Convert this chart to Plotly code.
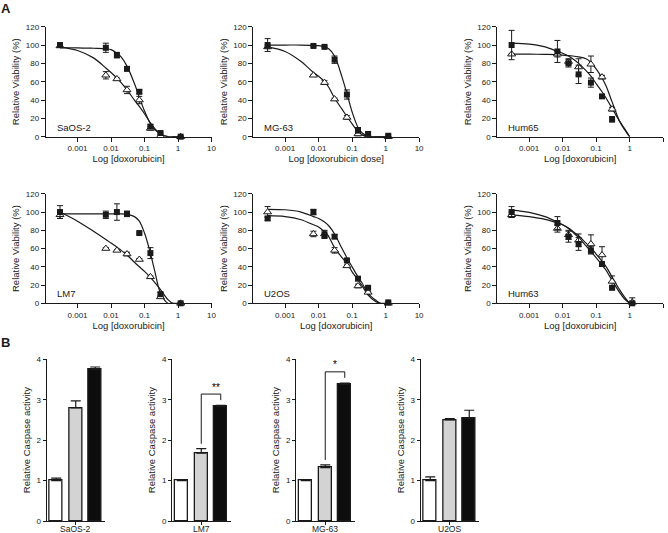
import plotly.graph_objects as go

# ---------------- data ----------------
POINT_DOSE = [0.0003, 0.007, 0.015, 0.03, 0.07, 0.15, 0.3, 1.2]
CURVE_DOSE = [0.0003, 0.001, 0.003, 0.007, 0.01, 0.015, 0.02, 0.03, 0.05,
              0.07, 0.1, 0.15, 0.2, 0.3, 0.5, 0.7, 1.0]
DOSE_TICKS = [0.001, 0.01, 0.1, 1, 10]
DOSE_TICK_LABELS = ["0.001", "0.01", "0.1", "1", "10"]
VIAB_TICKS = [0, 20, 40, 60, 80, 100, 120]

CELL_LINES_A = ["SaOS-2", "MG-63", "Hum65", "LM7", "U2OS", "Hum63"]
X_TITLES_A = ["Log [doxorubicin]", "Log [doxorubicin dose]", "Log [doxorubicin]",
              "Log [doxorubicin]", "Log [doxorubicin]", "Log [doxorubicin]"]

# filled squares / open triangles (mean, error) and fitted curves
saos2_sq = [100, 97, 89, 74, 49, 11, 4, 0]
saos2_sq_err = [2, 5, 3, 2, 2, 2, 1, 1]
saos2_tri = [99, 67, 63, 51, 40, 9, 1, 0]
saos2_tri_err = [1, 4, 1, 4, 4, 2, 1, 0]
saos2_fit_sq = [97, 97, 96.5, 96, 95, 91, 87, 77, 58, 43, 28, 14, 8, 3, 0, 0, 0]
saos2_fit_tri = [98, 94, 86, 75, 70, 64, 59, 51, 40, 33, 25, 15, 9, 3, 0, 0, 0]

mg63_sq = [100, 99, 98, 84, 46, 7, 3, 1]
mg63_sq_err = [7, 1, 1, 4, 5, 3, 2, 1]
mg63_tri = [98, 67, 59, 41, 21, 3, 1, 0]
mg63_tri_err = [2, 1, 2, 1, 2, 2, 1, 0]
mg63_fit_sq = [100, 100, 100, 99.5, 99.3, 98, 96, 88, 65, 47, 27, 10, 4, 0.5, 0, 0, 0]
mg63_fit_tri = [98, 93, 82, 70, 66, 60, 54, 42, 30, 22, 14, 5.5, 2, 0, 0, 0, 0]

hum65_sq = [100, 93, 80, 68, 59, 44, 19, None]
hum65_sq_err = [16, 12, 4, 10, 5, 1, 3, 0]
hum65_tri = [90, 90, 82, 76, 79, 65, 30, None]
hum65_tri_err = [0, 3, 3, 9, 9, 2, 2, 0]
hum65_fit_sq = [102, 101, 98, 93, 91, 88, 85, 80, 72, 66, 58, 49, 42, 31, 17, 9, 0]
hum65_fit_tri = [90, 90, 89.8, 89.5, 89, 88.5, 88, 87, 85, 81, 74, 64, 55, 38, 17, 8, 0]

lm7_sq = [100, 97, 100, 98, 77, 55, 10, 0]
lm7_sq_err = [7, 4, 9, 3, 1, 6, 2, 1]
lm7_tri = [97, 60, 58, 54, 48, 29, 7, 0]
lm7_tri_err = [4, 1, 1, 2, 1, 1, 1, 0]
lm7_fit_sq = [98, 98, 98, 98, 98, 98, 98, 97.5, 95, 90, 77, 55, 36, 11, 0, 0, 0]
lm7_fit_tri = [100, 90, 79, 70, 66, 61.5, 58, 53, 45, 40, 35, 28.5, 23, 15, 4, 0, 0]

u2os_sq = [93, 100, 75, 73, 47, 27, 17, 1]
u2os_sq_err = [2, 3, 4, 2, 1, 1, 1, 1]
u2os_tri = [100, 76, 76, 58, 41, 19, 12, 0]
u2os_tri_err = [6, 3, 4, 3, 1, 2, 1, 0]
u2os_fit_sq = [103, 102.5, 100, 95, 93, 89, 85, 76, 60, 50, 40, 29, 22, 11, 3.6, 0, 0]
u2os_fit_tri = [96, 95, 91.6, 86, 83.6, 78, 73, 61, 50, 43.6, 34.5, 25.5, 19, 9, 2, 0, 0]

hum63_sq = [100, 88, 73, 65, 58, 43, 17, 0]
hum63_sq_err = [6, 7, 6, 7, 4, 2, 2, 2]
hum63_tri = [97, 82, 75, 69, 65, 53, 24, 1]
hum63_tri_err = [3, 4, 5, 7, 10, 9, 6, 5]
hum63_fit_sq = [102, 99.6, 95, 89, 86, 82, 78, 72, 63, 57, 50, 42, 36, 25, 12, 5, 0]
hum63_fit_tri = [97, 95, 92, 88, 86, 82.5, 79, 74, 66, 61, 54, 46, 40, 29, 15, 7, 0]

# Panel B: relative caspase activity
CELL_LINES_B = ["SaOS-2", "LM7", "MG-63", "U2OS"]
casp_ctrl = [1.0, 1.0, 1.0, 1.0]
casp_ctrl_err = [0.06, 0.01, 0.02, 0.09]
casp_mid = [2.8, 1.68, 1.32, 2.5]
casp_mid_err = [0.17, 0.11, 0.07, 0.03]
casp_high = [3.75, 2.83, 3.38, 2.54]
casp_high_err = [0.06, 0.03, 0.03, 0.2]
SIGNIF = ["", "**", "*", ""]
CASP_TICKS = [0, 1, 2, 3, 4]

# ---------------- layout helpers ----------------
W, H = 668, 533
INK = "#1a1a1a"
FONT = "Liberation Sans, Arial, sans-serif"


def xdom(p0, p1):
    return [p0 / W, p1 / W]


def ydom(top, bottom):
    return [1 - bottom / H, 1 - top / H]


fig = go.Figure()
layout_axes = {}
annotations = []

panels_a = [
    (saos2_sq, saos2_sq_err, saos2_tri, saos2_tri_err, saos2_fit_sq, saos2_fit_tri),
    (mg63_sq, mg63_sq_err, mg63_tri, mg63_tri_err, mg63_fit_sq, mg63_fit_tri),
    (hum65_sq, hum65_sq_err, hum65_tri, hum65_tri_err, hum65_fit_sq, hum65_fit_tri),
    (lm7_sq, lm7_sq_err, lm7_tri, lm7_tri_err, lm7_fit_sq, lm7_fit_tri),
    (u2os_sq, u2os_sq_err, u2os_tri, u2os_tri_err, u2os_fit_sq, u2os_fit_tri),
    (hum63_sq, hum63_sq_err, hum63_tri, hum63_tri_err, hum63_fit_sq, hum63_fit_tri),
]
col_left = [45.7, 253.3, 497.3]
col_width = 165.8
row_tb = [(26.7, 136.7), (193.8, 303.3)]

for k, (sq, sqe, tri, trie, fsq, ftri) in enumerate(panels_a):
    i = k + 1
    xa = "x" if i == 1 else f"x{i}"
    ya = "y" if i == 1 else f"y{i}"
    r, c = divmod(k, 3)
    for curve in (fsq, ftri):
        fig.add_trace(go.Scatter(
            x=CURVE_DOSE, y=curve, mode="lines", xaxis=xa, yaxis=ya,
            line=dict(color=INK, width=1.2, shape="spline", smoothing=0.9),
            hoverinfo="skip", showlegend=False))
    fig.add_trace(go.Scatter(
        x=POINT_DOSE, y=tri, mode="markers", xaxis=xa, yaxis=ya, cliponaxis=False,
        marker=dict(symbol="triangle-up", size=7, color="white",
                    line=dict(color=INK, width=1)),
        error_y=dict(type="data", array=trie, color=INK, thickness=1, width=3),
        showlegend=False))
    fig.add_trace(go.Scatter(
        x=POINT_DOSE, y=sq, mode="markers", xaxis=xa, yaxis=ya, cliponaxis=False,
        marker=dict(symbol="square", size=6, color=INK, line=dict(color=INK, width=0)),
        error_y=dict(type="data", array=sqe, color=INK, thickness=1, width=3),
        showlegend=False))
    top, bot = row_tb[r]
    layout_axes["xaxis" if i == 1 else f"xaxis{i}"] = dict(
        domain=xdom(col_left[c], col_left[c] + col_width), anchor=ya,
        type="log", range=[-3.95, 1], tickmode="array", tickvals=DOSE_TICKS,
        ticktext=DOSE_TICK_LABELS, ticks="outside", ticklen=4, tickwidth=1,
        tickcolor=INK, showline=True, linecolor=INK, linewidth=1, showgrid=False,
        zeroline=False, tickfont=dict(size=8, color=INK), automargin=False,
        title=dict(text=X_TITLES_A[k], font=dict(size=9.5, color=INK), standoff=3))
    layout_axes["yaxis" if i == 1 else f"yaxis{i}"] = dict(
        domain=ydom(top, bot), anchor=xa, range=[0, 120], tickmode="array",
        tickvals=VIAB_TICKS, ticks="outside", ticklen=4, tickwidth=1, tickcolor=INK,
        showline=True, linecolor=INK, linewidth=1, showgrid=False, zeroline=False,
        tickfont=dict(size=8, color=INK), automargin=False,
        title=dict(text="Relative Viability (%)", font=dict(size=9.5, color=INK), standoff=4))
    annotations.append(dict(
        text=CELL_LINES_A[k], xref=f"{xa} domain", yref=ya, x=0.055, y=10.5,
        xanchor="left", yanchor="middle", showarrow=False,
        font=dict(size=9.5, color=INK)))

# ---------------- panel B ----------------
bar_left = [46.5, 172.0, 296.0, 420.5]
bar_w = 58.5
bar_top, bar_bot = 359.3, 521.0
star_x = [1.5, 1.75, 1.5, 1.5]

for j in range(4):
    i = 7 + j
    xa, ya = f"x{i}", f"y{i}"
    vals = [casp_ctrl[j], casp_mid[j], casp_high[j]]
    errs = [casp_ctrl_err[j], casp_mid_err[j], casp_high_err[j]]
    fig.add_trace(go.Bar(
        x=[0, 1, 2], y=vals, width=0.69, xaxis=xa, yaxis=ya,
        marker=dict(color=["white", "#d3d3d3", "#0d0d0d"], line=dict(color=INK, width=1.3)),
        error_y=dict(type="data", symmetric=False, array=errs, arrayminus=[0, 0, 0],
                     color=INK, thickness=1.2, width=5),
        showlegend=False, hoverinfo="skip"))
    if SIGNIF[j]:
        lb = casp_mid[j] + casp_mid_err[j] + 0.12
        rb = casp_high[j] + casp_high_err[j] + 0.13
        tp = casp_high[j] + casp_high_err[j] + 0.28
        fig.add_trace(go.Scatter(
            x=[1, 1, 2, 2], y=[lb, tp, tp, rb], mode="lines", xaxis=xa, yaxis=ya,
            line=dict(color=INK, width=1), cliponaxis=False, showlegend=False,
            hoverinfo="skip"))
        annotations.append(dict(
            text=SIGNIF[j], xref=xa, yref=ya, x=star_x[j], y=tp + 0.17,
            xanchor="center", yanchor="middle", showarrow=False,
            font=dict(size=10, color="#000000")))
    layout_axes[f"xaxis{i}"] = dict(
        domain=xdom(bar_left[j], bar_left[j] + bar_w), anchor=ya, range=[-0.5, 2.5],
        tickmode="array", tickvals=[1], showticklabels=False, ticks="outside",
        ticklen=3, tickwidth=1, tickcolor=INK, showline=True, linecolor=INK,
        linewidth=1, showgrid=False, zeroline=False, automargin=False)
    layout_axes[f"yaxis{i}"] = dict(
        domain=ydom(bar_top, bar_bot), anchor=xa, range=[0, 4], tickmode="array",
        tickvals=CASP_TICKS, ticks="outside", ticklen=3, tickwidth=1, tickcolor=INK,
        showline=True, linecolor=INK, linewidth=1, showgrid=False, zeroline=False,
        automargin=False, tickfont=dict(size=8, color=INK),
        title=dict(text="Relative Caspase activity", font=dict(size=9.5, color=INK),
                   standoff=4))
    # category label under the group (tick label equivalent)
    annotations.append(dict(
        text=CELL_LINES_B[j], xref=xa, yref="paper", x=1, y=1 - 522.5 / H,
        xanchor="center", yanchor="top", showarrow=False, borderpad=0,
        font=dict(size=8.5, color=INK)))

annotations.append(dict(text="<b>A</b>", xref="paper", yref="paper", x=0,
                        y=1, xanchor="left", yanchor="top", showarrow=False,
                        borderpad=0, font=dict(size=13, color=INK)))
annotations.append(dict(text="<b>B</b>", xref="paper", yref="paper", x=0,
                        y=1 - 334 / H, xanchor="left", yanchor="top", showarrow=False,
                        borderpad=0, font=dict(size=13, color=INK)))

fig.update_layout(
    template="none", width=W, height=H, autosize=False,
    margin=dict(l=0, r=0, t=0, b=0),
    paper_bgcolor="white", plot_bgcolor="white",
    font=dict(family=FONT, color=INK), showlegend=False,
    annotations=annotations, bargap=0, **layout_axes)

fig.write_html("out.html", config={"displayModeBar": False},
               post_script="document.body.style.margin='0px';"
                           "document.body.style.padding='0px';")
